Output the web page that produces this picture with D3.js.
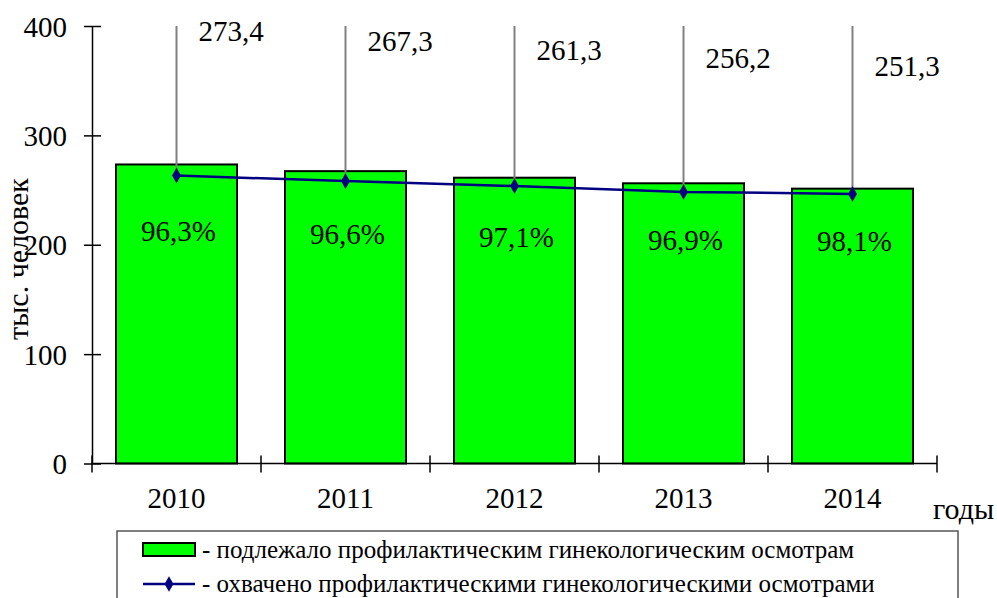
<!DOCTYPE html>
<html><head><meta charset="utf-8">
<script src="https://cdn.jsdelivr.net/npm/d3@7"></script>
<style>
html,body{margin:0;padding:0;background:#fff;}
svg{display:block;}
svg text{font-family:"Liberation Serif","Times New Roman",serif;fill:#000;}
</style></head>
<body><svg id="c" width="997" height="598"></svg>
<script>
const years = ["2010", "2011", "2012", "2013", "2014"];
const planned = [273.4, 267.3, 261.3, 256.2, 251.3];
const covered = [263.3, 258.2, 253.7, 248.3, 246.5];
const plannedLabels = ["273,4", "267,3", "261,3", "256,2", "251,3"];
const percentLabels = ["96,3%", "96,6%", "97,1%", "96,9%", "98,1%"];
const yTicks = [0, 100, 200, 300, 400];
const legendTexts = ["- подлежало профилактическим гинекологическим осмотрам",
                     "- охвачено профилактическими гинекологическими осмотрами"];

const svg = d3.select("#c");
const x = d3.scaleBand().domain(years).range([92, 937]).padding(0);
const y = d3.scaleLinear().domain([0, 400]).range([463.5, 26]);
const barW = x.bandwidth() * 0.716;
const cx = d => x(d) + x.bandwidth() / 2;

// label placement scales
const topLabY = d3.scaleLinear().domain([251.3, 273.4]).range([66, 31]);
const pctLabY = d3.scaleLinear().domain([246.5, 263.3]).range([241, 231]);

// bars
svg.selectAll("rect.bar").data(years).join("rect")
  .attr("x", d => cx(d) - barW / 2)
  .attr("y", (d, i) => y(planned[i]))
  .attr("width", barW)
  .attr("height", (d, i) => y(0) - y(planned[i]))
  .attr("fill", "#00ff00").attr("stroke", "#000").attr("stroke-width", 2);

// gray leader lines
svg.selectAll("line.lead").data(years).join("line")
  .attr("x1", cx).attr("x2", cx)
  .attr("y1", y(400)).attr("y2", (d, i) => y(covered[i]))
  .attr("stroke", "#808080").attr("stroke-width", 2);

// axes
const yAxis = d3.axisLeft(y).tickValues(yTicks).tickSize(0).tickPadding(0).tickFormat(d3.format("d"));
const gy = svg.append("g").attr("transform", "translate(92,0)").call(yAxis)
  .attr("font-family", null).attr("font-size", null);
gy.select(".domain").attr("stroke", "#000").attr("stroke-width", 1.5);
gy.selectAll(".tick text").remove();
gy.selectAll(".tick").append("line").attr("x1", -8).attr("x2", 9).attr("stroke", "#000").attr("stroke-width", 1.5);
gy.selectAll(".tick").append("text").text(d => d).attr("x", -25).attr("dy", "0.35em")
  .attr("text-anchor", "end").attr("font-size", 29);

const bounds = years.map(d => x(d)).concat([x.range()[1]]);
const gx = svg.append("g");
gx.append("line").attr("x1", 92).attr("x2", 937).attr("y1", y(0)).attr("y2", y(0))
  .attr("stroke", "#000").attr("stroke-width", 1.5);
gx.selectAll("line.tk").data(bounds).join("line")
  .attr("x1", d => d).attr("x2", d => d).attr("y1", y(0) - 8).attr("y2", y(0) + 9)
  .attr("stroke", "#000").attr("stroke-width", 1.5);
gx.selectAll("text.yr").data(years).join("text")
  .attr("x", cx).attr("y", 498).attr("dy", "0.35em").attr("text-anchor", "middle")
  .attr("font-size", 29).text(d => d);

// line series
const line = d3.line().x((d, i) => cx(years[i])).y(d => y(d));
svg.append("path").datum(covered).attr("d", line)
  .attr("fill", "none").attr("stroke", "#000080").attr("stroke-width", 2.5);
const diamond = d3.symbol().type(d3.symbolDiamond).size(70);
svg.selectAll("path.mk").data(covered).join("path")
  .attr("d", diamond)
  .attr("transform", (d, i) => `translate(${cx(years[i])},${y(d)})`)
  .attr("fill", "#000080");

// labels
svg.selectAll("text.top").data(plannedLabels).join("text")
  .attr("x", (d, i) => cx(years[i]) + 22)
  .attr("y", (d, i) => topLabY(planned[i])).attr("dy", "0.35em")
  .attr("font-size", 29).text(d => d);
svg.selectAll("text.pct").data(percentLabels).join("text")
  .attr("x", (d, i) => cx(years[i]) + 2)
  .attr("y", (d, i) => pctLabY(covered[i])).attr("dy", "0.35em")
  .attr("text-anchor", "middle").attr("font-size", 29).text(d => d);

// axis titles
svg.append("text").attr("transform", "translate(17,259) rotate(-90)")
  .attr("text-anchor", "middle").attr("dy", "0.35em").attr("font-size", 30).text("тыс. человек");
svg.append("text").attr("x", 933).attr("y", 508).attr("dy", "0.35em")
  .attr("font-size", 30).text("годы");

// legend
const lg = svg.append("g");
lg.append("rect").attr("x", 117).attr("y", 531).attr("width", 841).attr("height", 80)
  .attr("fill", "none").attr("stroke", "#555").attr("stroke-width", 1.5);
lg.append("rect").attr("x", 143).attr("y", 543).attr("width", 52).attr("height", 13)
  .attr("fill", "#00ff00").attr("stroke", "#000").attr("stroke-width", 2);
lg.append("line").attr("x1", 143).attr("x2", 195).attr("y1", 584).attr("y2", 584)
  .attr("stroke", "#000080").attr("stroke-width", 2.5);
lg.append("path").attr("d", diamond).attr("transform", "translate(169,584)").attr("fill", "#000080");
lg.selectAll("text").data(legendTexts).join("text")
  .attr("x", 202).attr("y", (d, i) => 549.5 + i * 33.5).attr("dy", "0.35em")
  .attr("font-size", 25).text(d => d);
</script></body></html>
